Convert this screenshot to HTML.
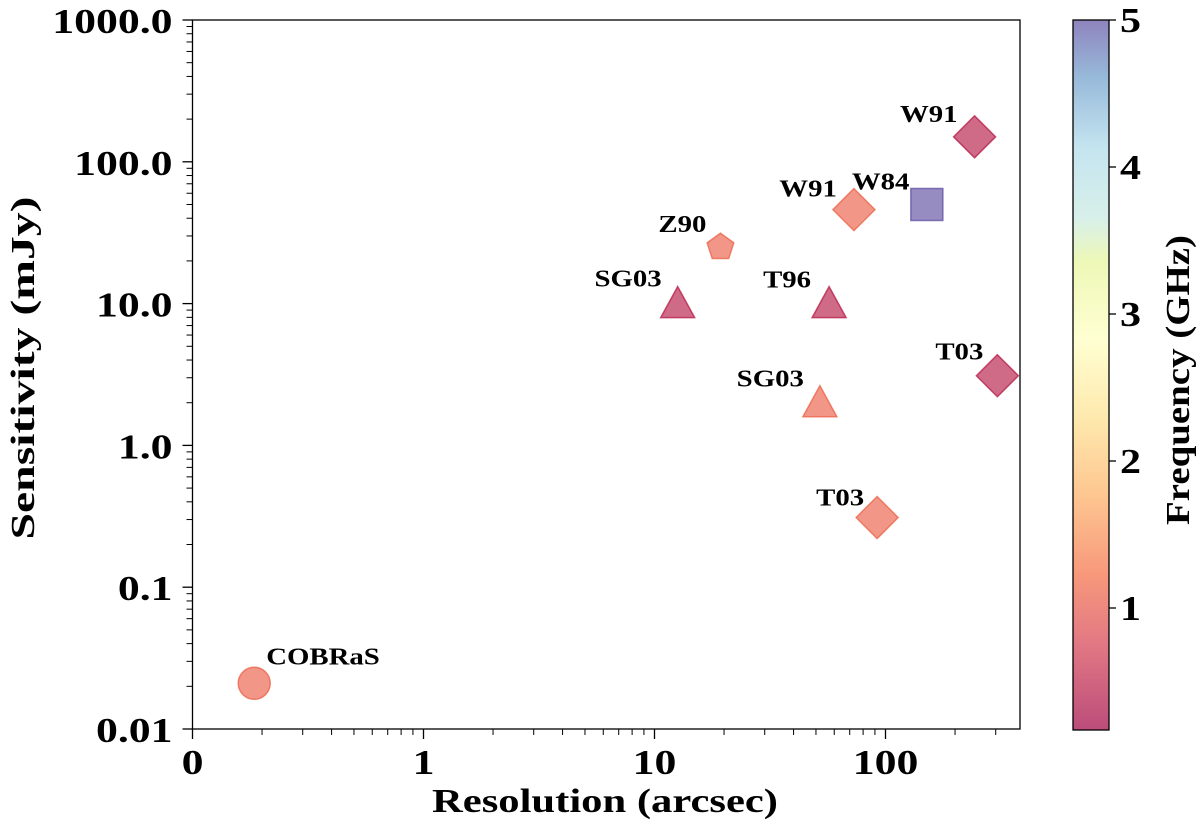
<!DOCTYPE html>
<html><head><meta charset="utf-8"><style>
body{margin:0;background:#fff;}
svg{display:block;font-family:"Liberation Serif",serif;font-weight:bold;}
</style></head><body>
<svg id="c" width="1200" height="822" xmlns="http://www.w3.org/2000/svg">
<defs>
<linearGradient id="cm" x1="0" y1="1" x2="0" y2="0">
<stop offset="0" stop-color="#9e0142"/>
<stop offset="0.12" stop-color="#d53e4f"/>
<stop offset="0.22" stop-color="#f46d43"/>
<stop offset="0.33" stop-color="#fdae61"/>
<stop offset="0.44" stop-color="#fee08b"/>
<stop offset="0.55" stop-color="#ffffbf"/>
<stop offset="0.66" stop-color="#e6f598"/>
<stop offset="0.72" stop-color="#c7e9e0"/>
<stop offset="0.82" stop-color="#abd9e9"/>
<stop offset="0.92" stop-color="#6b9bc9"/>
<stop offset="1" stop-color="#5e4fa2"/>
</linearGradient>
</defs>
<g id="plot"></g>
</svg>
<script>
const labels=["COBRaS","Z90","SG03","T96","SG03","W91","W84","W91","T03","T03"];
const resolution=[0.185,19.3,12.6,57,52,73,151,243,305,92];
const sensitivity=[0.021,25,10,10,2.0,46,50,150,3.1,0.31];
const frequency=[1.1,1.1,0.41,0.41,1.1,1.1,5,0.41,0.41,1.1];
const shapes=["circle","pentagon","triangle","triangle","triangle","diamond","square","diamond","diamond","diamond"];
const labelDx=[12,-14,-16,-18,-16,-17,-75,-17,-14,-13];
const labelDy=[-27,-23,-25,-24,-24,-21,-23,-23,-24,-20];
const xTicks=[0.1,1,10,100];
const xTickLabels=["0","1","10","100"];
const yTicks=[0.01,0.1,1,10,100,1000];
const yTickLabels=["0.01","0.1","1.0","10.0","100.0","1000.0"];
const cbTicks=[1,2,3,4,5];

const L=192.5,R=1020,T=20,B=729;
const xs=v=>L+(Math.log10(v)+1)*231;
const ys=v=>B-(Math.log10(v)+2)*141.8;
const cbY=v=>20+(5-v)*147;
const NS="http://www.w3.org/2000/svg";
const g=document.getElementById('plot');
function el(t,a,p){const e=document.createElementNS(NS,t);for(const k in a)e.setAttribute(k,a[k]);(p||g).appendChild(e);return e;}
function widen(t,f){const w=t.getComputedTextLength();t.setAttribute('textLength',w*f);t.setAttribute('lengthAdjust','spacingAndGlyphs');}
function spectral(v){
  const stops=[[0,[158,1,66]],[0.12,[213,62,79]],[0.22,[244,109,67]],[0.33,[253,174,97]],[0.44,[254,224,139]],[0.55,[255,255,191]],[0.66,[230,245,152]],[0.72,[199,233,224]],[0.82,[171,217,233]],[0.92,[107,155,201]],[1,[94,79,162]]];
  let f=(v-0.17)/(5-0.17);f=Math.max(0,Math.min(1,f));
  for(let i=1;i<stops.length;i++){if(f<=stops[i][0]){const a=stops[i-1],b=stops[i],t=(f-a[0])/(b[0]-a[0]);return 'rgb('+a[1].map((c,j)=>Math.round(c+(b[1][j]-c)*t)).join(',')+')';}}
  return 'rgb(94,79,162)';
}
let fr=el('rect',{x:L,y:T,width:R-L,height:B-T,fill:'none',stroke:'#000','stroke-width':1.3});

xTicks.forEach((v,i)=>{
  el('line',{x1:xs(v),x2:xs(v),y1:B,y2:B+10,stroke:'#000','stroke-width':1.3});
  let t=el('text',{x:xs(v),y:B+45,'font-size':35,'text-anchor':'middle'});t.textContent=xTickLabels[i];
  
  widen(t,1.25);
  for(let m=2;m<10;m++){const mv=v*m;if(xs(mv)<R)el('line',{x1:xs(mv),x2:xs(mv),y1:B,y2:B+6,stroke:'#000','stroke-width':1});}
});
yTicks.forEach((v,i)=>{
  el('line',{x1:L,x2:L-10,y1:ys(v),y2:ys(v),stroke:'#000','stroke-width':1.3});
  let t=el('text',{x:L-20,y:ys(v)+13,'font-size':35,'text-anchor':'end'});t.textContent=yTickLabels[i];
  
  widen(t,1.25);
  if(i<yTicks.length-1)for(let m=2;m<10;m++){el('line',{x1:L,x2:L-6,y1:ys(v*m),y2:ys(v*m),stroke:'#000','stroke-width':1});}
});
let xt=el('text',{x:605,y:812,'font-size':34,'text-anchor':'middle',textLength:346,lengthAdjust:'spacingAndGlyphs'});xt.textContent="Resolution (arcsec)";

let yt=el('text',{x:0,y:0,'font-size':34,'text-anchor':'middle',textLength:343,lengthAdjust:'spacingAndGlyphs',transform:'translate(34,368) rotate(-90)'});yt.textContent="Sensitivity (mJy)";

resolution.forEach((r,i)=>{
  const x=xs(r),y=ys(sensitivity[i]),c=spectral(frequency[i]);
  const st={fill:c,'fill-opacity':0.65,stroke:c,'stroke-opacity':0.75,'stroke-width':1.5};
  let m;const s=shapes[i];
  if(s==='circle')m=el('circle',Object.assign({cx:x,cy:y,r:16},st));
  else if(s==='square')m=el('rect',Object.assign({x:x-16,y:y-16,width:32,height:32},st));
  else if(s==='diamond')m=el('polygon',Object.assign({points:`${x},${y-21} ${x+21},${y} ${x},${y+21} ${x-21},${y}`},st));
  else if(s==='triangle')m=el('polygon',Object.assign({points:`${x},${y-17} ${x+17},${y+14} ${x-17},${y+14}`},st));
  else{let p=[];for(let k=0;k<5;k++){const a=-Math.PI/2+k*2*Math.PI/5;p.push((x+14*Math.cos(a))+','+(y+14*Math.sin(a)));}m=el('polygon',Object.assign({points:p.join(' ')},st));}
  
  
  let t=el('text',{x:x+labelDx[i],y:y+labelDy[i]+8,'font-size':24,'text-anchor':labelDx[i]>0||s==='square'?'start':'end'});
  t.textContent=labels[i];
  
  
  widen(t,1.2);
});
let cb=el('rect',{x:1073,y:20,width:36,height:710,fill:'url(#cm)','fill-opacity':0.7,stroke:'#000','stroke-width':1.3});

cbTicks.forEach(v=>{
  el('line',{x1:1109,x2:1116,y1:cbY(v),y2:cbY(v),stroke:'#000','stroke-width':1.3});
  let t=el('text',{x:1120,y:cbY(v)+12,'font-size':35});t.textContent=v;
  
  widen(t,1.2);
});
let ct=el('text',{x:0,y:0,'font-size':34,'text-anchor':'middle',textLength:290,lengthAdjust:'spacingAndGlyphs',transform:'translate(1189,380) rotate(-90)'});ct.textContent="Frequency (GHz)";

</script>
</body></html>
